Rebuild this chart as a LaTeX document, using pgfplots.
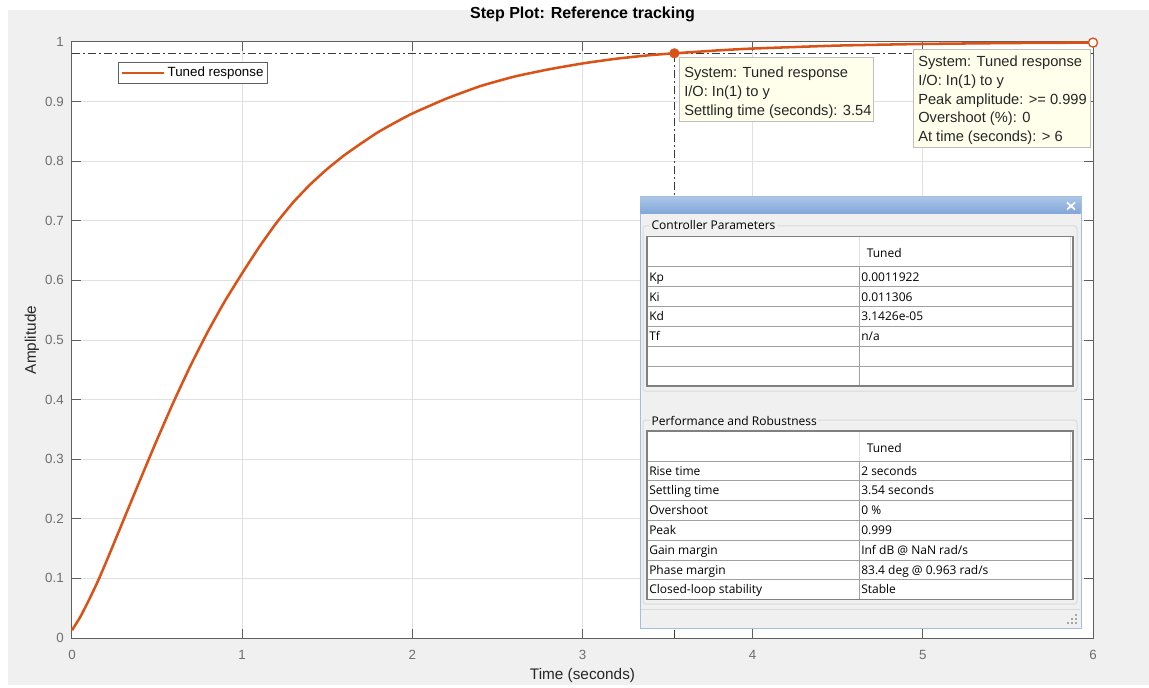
\documentclass[border=0pt]{standalone}
\usepackage{pgfplots}
\pgfplotsset{compat=1.18}
\usepackage{pgfplotstable}
\usepackage{fontspec}
\setmainfont{Liberation Sans}
\newfontfamily\uifont{Open Sans}
\definecolor{mlorange}{RGB}{217,83,25}
\definecolor{figgray}{RGB}{240,240,240}
\definecolor{axcol}{RGB}{95,95,95}
\definecolor{ticklab}{RGB}{110,110,110}
\definecolor{gridc}{RGB}{224,224,224}
\definecolor{tipbg}{RGB}{255,255,236}
\definecolor{tipbd}{RGB}{190,190,190}
\definecolor{tiptext}{RGB}{38,38,38}
\definecolor{dlgborder}{RGB}{165,190,222}
\definecolor{tblline}{RGB}{160,160,160}
\definecolor{tblouter}{RGB}{128,128,128}
\definecolor{grpline}{RGB}{218,218,218}
\definecolor{titletop}{RGB}{170,196,230}
\definecolor{titlebot}{RGB}{128,166,216}
\definecolor{dashc}{RGB}{60,60,60}
\newcommand\tipfont{\fontsize{11}{13}\selectfont}
\newcommand\uif{\uifont\fontsize{9}{11}\selectfont}

\pgfplotstableread{
t y
0.0 0.013
0.05 0.036
0.1 0.064
0.15 0.094
0.2 0.127
0.3 0.196
0.4 0.265
0.5 0.333
0.6 0.398
0.7 0.459
0.8 0.515
0.9 0.566
1.0 0.612
1.1 0.656
1.2 0.696
1.3 0.731
1.4 0.761
1.5 0.787
1.6 0.810
1.7 0.830
1.8 0.849
1.9 0.865
2.0 0.880
2.2 0.905
2.4 0.926
2.6 0.942
2.8 0.954
3.0 0.964
3.2 0.972
3.4 0.978
3.54 0.981
3.8 0.986
4.0 0.989
4.5 0.994
5.0 0.9967
5.5 0.9982
6.0 0.999
}\resp

\begin{document}
\begin{tikzpicture}
\begin{scope}[x=0.75pt,y=-0.75pt]
  \path[use as bounding box] (0,0) rectangle (1149,685);
  \fill[white] (0,0) rectangle (1149,685);
  \fill[figgray] (8,10) rectangle (1149,685);
\end{scope}
\begin{axis}[
  at={(54pt,-478.5pt)}, anchor=south west,
  scale only axis, width=765.75pt, height=447pt,
  xmin=0, xmax=6, ymin=0, ymax=1,
  xtick={0,1,2,3,4,5,6},
  ytick={0,0.1,0.2,0.3,0.4,0.5,0.6,0.7,0.8,0.9,1},
  yticklabels={0,0.1,0.2,0.3,0.4,0.5,0.6,0.7,0.8,0.9,1},
  axis background/.style={fill=white},
  axis line style={axcol, line width=0.75pt},
  tick style={axcol, line width=0.75pt},
  major tick length=7pt,
  tick align=inside,
  grid=major, major grid style={gridc, line width=0.75pt},
  ticklabel style={font=\fontsize{10}{12}\selectfont, text=ticklab},
  /pgf/number format/assume math mode=true,
  xticklabel style={yshift=-5.5pt},
  yticklabel style={xshift=-2.7pt},
  clip=false,
  title={Step Plot: Reference tracking},
  title style={font=\bfseries\fontsize{12}{14}\selectfont, at={(axis description cs:0.5,1)}, anchor=center, yshift=15pt},
  xlabel={Time (seconds)},
  xlabel style={font=\fontsize{11.5}{13}\selectfont, text=tiptext, at={(axis description cs:0.5,0)}, anchor=center, yshift=-28.5pt},
  ylabel={Amplitude},
  ylabel style={font=\fontsize{11.5}{13}\selectfont, text=tiptext, at={(axis description cs:0,0.5)}, anchor=center, yshift=30pt},
  legend style={at={(axis description cs:0.045,0.9664)}, anchor=north west, draw=axcol, fill=white, line width=0.75pt,
    font=\fontsize{10}{12}\selectfont, inner xsep=1.5pt, inner ysep=2pt, nodes={inner sep=1.5pt, text=black}},
  legend cell align=left,
  legend image code/.code={\draw[#1, line width=1.9pt] (0pt,0pt) -- (32pt,0pt);},
]
\addplot[dashc, line width=0.75pt, dash pattern=on 6pt off 2.25pt on 1.5pt off 2.25pt, forget plot] coordinates {(0,0.98) (6,0.98)};
\addplot[dashc, line width=0.75pt, dash pattern=on 6pt off 2.25pt on 1.5pt off 2.25pt, forget plot] coordinates {(3.54,0) (3.54,0.98)};
\addplot[mlorange, line width=1.9pt, smooth, tension=0.3] table[x=t, y=y] {\resp};
\addlegendentry{Tuned response}
\addplot[only marks, mark=*, mark size=3.6pt, color=mlorange, forget plot] coordinates {(3.54,0.981)};
\addplot[only marks, mark=*, mark size=3.4pt, draw=mlorange, fill=white, line width=1pt, forget plot] coordinates {(6,0.999)};
\end{axis}
\begin{scope}[x=0.75pt,y=-0.75pt]
  % datatip 1
  \draw[tipbd, fill=tipbg, line width=0.75pt] (679,58) rectangle (873,122);
  \begin{scope}[every node/.style={anchor=base west, inner sep=0pt, font=\tipfont, text=tiptext}]
    \node at (684,78) {System: Tuned response};
    \node at (684,97) {I/O: In(1) to y};
    \node at (684,116) {Settling time (seconds): 3.54};
  \end{scope}
  % datatip 2
  \draw[tipbd, fill=tipbg, line width=0.75pt] (913,50) rectangle (1090,148);
  \begin{scope}[every node/.style={anchor=base west, inner sep=0pt, font=\tipfont, text=tiptext}]
    \node at (918,67) {System: Tuned response};
    \node at (918,85.6) {I/O: In(1) to y};
    \node at (918,104.2) {Peak amplitude: >= 0.999};
    \node at (918,122.8) {Overshoot (\%): 0};
    \node at (918,141.4) {At time (seconds): > 6};
  \end{scope}
  % dialog
  \draw[dlgborder, fill=figgray, line width=0.75pt] (640,197) rectangle (1081,628);
  \shade[top color=titletop, bottom color=titlebot] (640.5,197.5) rectangle (1080.5,214);
  \draw[white, line width=1.3pt] (1067,202.5) -- (1075,209.5) (1067,209.5) -- (1075,202.5);
  % group boxes
  \draw[grpline, line width=0.75pt, rounded corners=2pt] (643,226) rectangle (1077,391);
  \draw[grpline, line width=0.75pt, rounded corners=2pt] (643,420) rectangle (1077,604);
  \node[anchor=base west, inner xsep=1pt, inner ysep=1pt, fill=figgray, font=\uif, text=black] at (650,230) {Controller Parameters};
  \node[anchor=base west, inner xsep=1pt, inner ysep=1pt, fill=figgray, font=\uif, text=black] at (650,425) {Performance and Robustness};
  % table 1
  \fill[white] (647,236.5) rectangle (1073,386);
  \draw[gridc, line width=0.75pt] (859.5,237) -- (859.5,267) (1070,237) -- (1070,267);
  \foreach \yy in {267,287,306.5,326,346,366} {\draw[tblline, line width=0.75pt] (647,\yy) -- (1073,\yy);}
  \draw[tblline, line width=0.75pt] (859.5,267) -- (859.5,386);
  \draw[tblouter, line width=1.3pt] (647,236.5) rectangle (1073,386);
  \begin{scope}[every node/.style={anchor=base west, inner sep=0pt, font=\uif, text=black}]
    \node at (866.5,257.5) {Tuned};
    \node at (649,281.3) {Kp};       \node at (861,281.3) {0.0011922};
    \node at (649,301) {Ki};         \node at (861,301) {0.011306};
    \node at (649,320.5) {Kd};       \node at (861,320.5) {3.1426e-05};
    \node at (649,340.3) {Tf};       \node at (861,340.3) {n/a};
  \end{scope}
  % table 2
  \fill[white] (647,431) rectangle (1073,599.5);
  \draw[gridc, line width=0.75pt] (859.5,431.5) -- (859.5,461) (1070,431.5) -- (1070,461);
  \foreach \yy in {461,480.5,500,520,540,560,579.5} {\draw[tblline, line width=0.75pt] (647,\yy) -- (1073,\yy);}
  \draw[tblline, line width=0.75pt] (859.5,461) -- (859.5,599.5);
  \draw[tblouter, line width=1.3pt] (647,431) rectangle (1073,599.5);
  \begin{scope}[every node/.style={anchor=base west, inner sep=0pt, font=\uif, text=black}]
    \node at (866.5,452.5) {Tuned};
    \node at (649,475) {Rise time};              \node at (861,475) {2 seconds};
    \node at (649,494.5) {Settling time};        \node at (861,494.5) {3.54 seconds};
    \node at (649,514.3) {Overshoot};            \node at (861,514.3) {0 \%};
    \node at (649,534.3) {Peak};                 \node at (861,534.3) {0.999};
    \node at (649,554.3) {Gain margin};          \node at (861,554.3) {Inf dB @ NaN rad/s};
    \node at (649,574) {Phase margin};           \node at (861,574) {83.4 deg @ 0.963 rad/s};
    \node at (649,593.8) {Closed-loop stability};\node at (861,593.8) {Stable};
  \end{scope}
  % bottom strip
  \draw[grpline, line width=0.75pt] (641,609.5) -- (1080,609.5);
  \foreach \gx/\gy in {1075/614, 1075/618, 1071/618, 1075/622, 1071/622, 1067/622} {\fill[gray!70] (\gx,\gy) rectangle ++(1.6,1.6);}
\end{scope}
\end{tikzpicture}
\end{document}
